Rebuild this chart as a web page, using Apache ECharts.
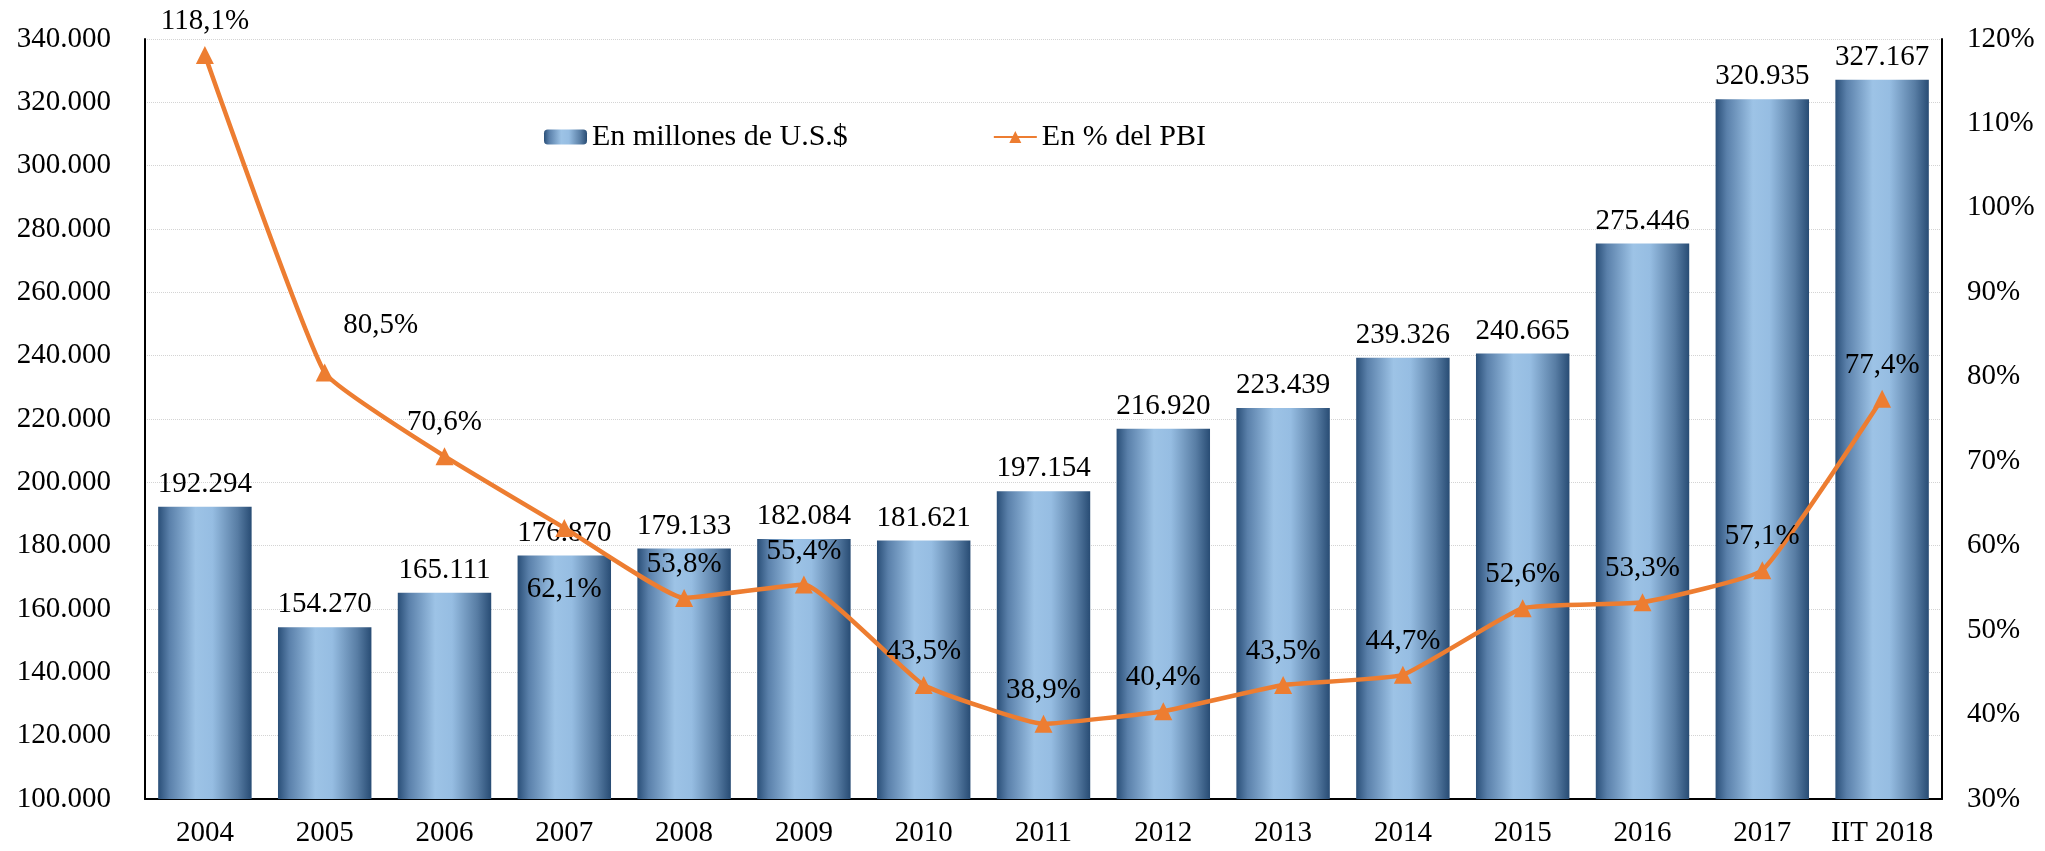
<!DOCTYPE html>
<html>
<head>
<meta charset="utf-8">
<script src="https://cdn.jsdelivr.net/npm/echarts@6/dist/echarts.min.js"></script>
<style>
    html, body { margin: 0; padding: 0; background: #fff; }
    #chart { width: 2045px; height: 851px; }
</style>
</head>
<body>
<div id="chart"></div>
<script>
// datos
let years = ['2004', '2005', '2006', '2007', '2008', '2009', '2010', '2011', '2012', '2013', '2014', '2015', '2016', '2017', 'IIT 2018'];
let millones = [192294, 154270, 165111, 176870, 179133, 182084, 181621, 197154, 216920, 223439, 239326, 240665, 275446, 320935, 327167];
let pctPbi = [118.1, 80.5, 70.6, 62.1, 53.8, 55.4, 43.5, 38.9, 40.4, 43.5, 44.7, 52.6, 53.3, 57.1, 77.4];

const FONT = '"Liberation Serif", "Times New Roman", serif';

function miles(v) {// 192294 -> 192.294
    let s = String(Math.round(v));
    return s.replace(/\B(?=(\d{3})+(?!\d))/g, '.');
}

let chart = echarts.init(document.getElementById('chart'));

let barColor = new echarts.graphic.LinearGradient(0, 0, 1, 0, [
    {offset: 0, color: '#2A4F78'},
    {offset: 0.12, color: '#5A80AA'},
    {offset: 0.4, color: '#9DC3E6'},
    {offset: 0.58, color: '#96BDE2'},
    {offset: 0.85, color: '#587DA4'},
    {offset: 1, color: '#284C74'}
]);

// etiquetas de la linea: casi todas arriba, dos casos especiales
let lineData = pctPbi.map(function (v, i) {
    let item = {value: v};
    if (i === 1) {
        item.label = {position: 'top', offset: [56, -14]};
    }
    if (i === 3) {
        item.label = {position: 'bottom', distance: 38};
    }
    return item;
});

let option = {
    animation: false,
    textStyle: {fontFamily: FONT},
    grid: {left: 145, right: 103, top: 39, bottom: 52},
    legend: {
        left: 539,
        top: 117,
        itemGap: 145,
        itemWidth: 43,
        itemHeight: 15,
        textStyle: {fontFamily: FONT, fontSize: 30, color: '#000'},
        data: ['En millones de U.S.$', 'En % del PBI']
    },
    xAxis: {
        type: 'category',
        data: years,
        axisLine: {lineStyle: {color: '#000', width: 2}},
        axisTick: {show: false},
        axisLabel: {fontFamily: FONT, fontSize: 29, color: '#000', margin: 20, interval: 0}
    },
    yAxis: [{
        type: 'value',
        min: 100000,
        max: 340000,
        interval: 20000,
        axisLine: {show: true, lineStyle: {color: '#000', width: 2}},
        axisTick: {show: false},
        splitLine: {lineStyle: {color: '#d4d4d4', type: 'dotted', width: 1}},
        axisLabel: {fontFamily: FONT, fontSize: 29, color: '#000', margin: 34, formatter: miles}
    }, {
        type: 'value',
        min: 30,
        max: 120,
        interval: 10,
        position: 'right',
        axisLine: {show: true, lineStyle: {color: '#000', width: 2}},
        axisTick: {show: false},
        splitLine: {show: false},
        axisLabel: {fontFamily: FONT, fontSize: 29, color: '#000', margin: 25, formatter: '{value}%'}
    }],
    series: [{
        name: 'En millones de U.S.$',
        type: 'bar',
        data: millones,
        barCategoryGap: '22%',
        itemStyle: {color: barColor},
        label: {
            show: true,
            position: 'top',
            distance: 8,
            fontFamily: FONT,
            fontSize: 29,
            color: '#000',
            formatter: function (p) { return miles(p.value); }
        }
    }, {
        name: 'En % del PBI',
        type: 'line',
        yAxisIndex: 1,
        data: lineData,
        smooth: 0.12,
        symbol: 'triangle',
        symbolSize: 18,
        lineStyle: {color: '#ED7D31', width: 4.5},
        itemStyle: {color: '#ED7D31'},
        label: {
            show: true,
            position: 'top',
            distance: 10,
            fontFamily: FONT,
            fontSize: 29,
            color: '#000',
            formatter: function (p) { return p.value.toFixed(1).replace('.', ',') + '%'; }
        },
        z: 5
    }]
};
chart.setOption(option);
</script>
</body>
</html>
